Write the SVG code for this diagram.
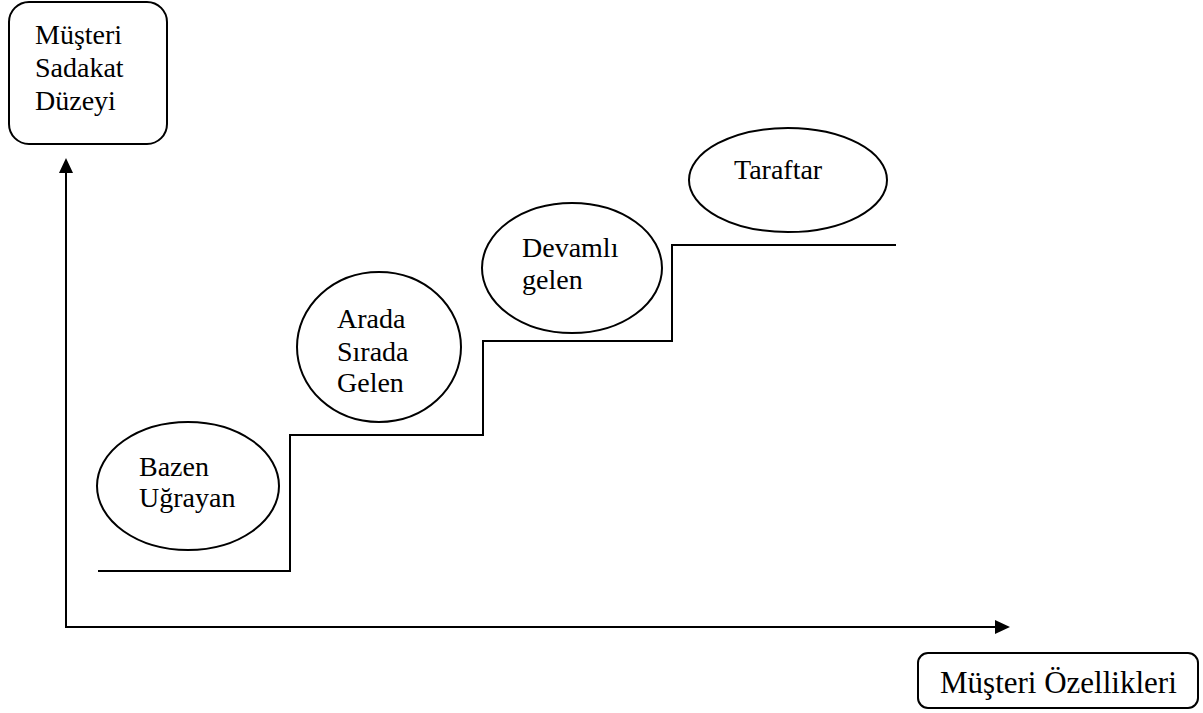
<svg xmlns="http://www.w3.org/2000/svg" width="1203" height="713" viewBox="0 0 1203 713">
<style>
.t{font-family:"Liberation Serif","Times New Roman",serif;font-size:28px;fill:#000}
.b{fill:#fff;stroke:#000;stroke-width:2}
.l{fill:none;stroke:#000;stroke-width:2}
</style>
<defs>
<marker id="ah" markerWidth="8" markerHeight="8" refX="7" refY="4" orient="auto" markerUnits="userSpaceOnUse" viewBox="0 0 8 8">
<path d="M0,0 L8,4 L0,8 Z" fill="#000"/>
</marker>
</defs>
<rect width="1203" height="713" fill="#fff"/>
<g id="connectors">
<path class="l" d="M66,627 L66,160"/>
<polygon points="66,158 59,173 73,173" fill="#000"/>
<path class="l" d="M65,627 L996,627"/>
<polygon points="1010,627 995,620 995,634" fill="#000"/>
<path class="l" d="M98,571 L290,571 L290,435 L483,435 L483,341 L672,341 L672,245 L896,245"/>
</g>
<g id="y-label">
<rect class="b" x="9" y="2" width="158" height="142" rx="20" ry="20"/>
<text class="t" x="35" y="44">Müşteri</text>
<text class="t" x="35" y="77">Sadakat</text>
<text class="t" x="35" y="110">Düzeyi</text>
</g>
<g id="x-label">
<rect class="b" x="918" y="653" width="280" height="55" rx="10" ry="10"/>
<text class="t" x="940" y="693" style="font-size:31px">Müşteri Özellikleri</text>
</g>
<g id="bazen">
<ellipse class="b" cx="188" cy="486" rx="91" ry="64"/>
<text class="t" x="139" y="476">Bazen</text>
<text class="t" x="139" y="507">Uğrayan</text>
</g>
<g id="arada">
<ellipse class="b" cx="379" cy="347" rx="82" ry="75"/>
<text class="t" x="337" y="328">Arada</text>
<text class="t" x="337" y="361">Sırada</text>
<text class="t" x="337" y="392">Gelen</text>
</g>
<g id="devamli">
<ellipse class="b" cx="572" cy="268" rx="90" ry="65"/>
<text class="t" x="522" y="257">Devamlı</text>
<text class="t" x="522" y="289">gelen</text>
</g>
<g id="taraftar">
<ellipse class="b" cx="788" cy="180" rx="99" ry="52"/>
<text class="t" x="734" y="179">Taraftar</text>
</g>
</svg>
